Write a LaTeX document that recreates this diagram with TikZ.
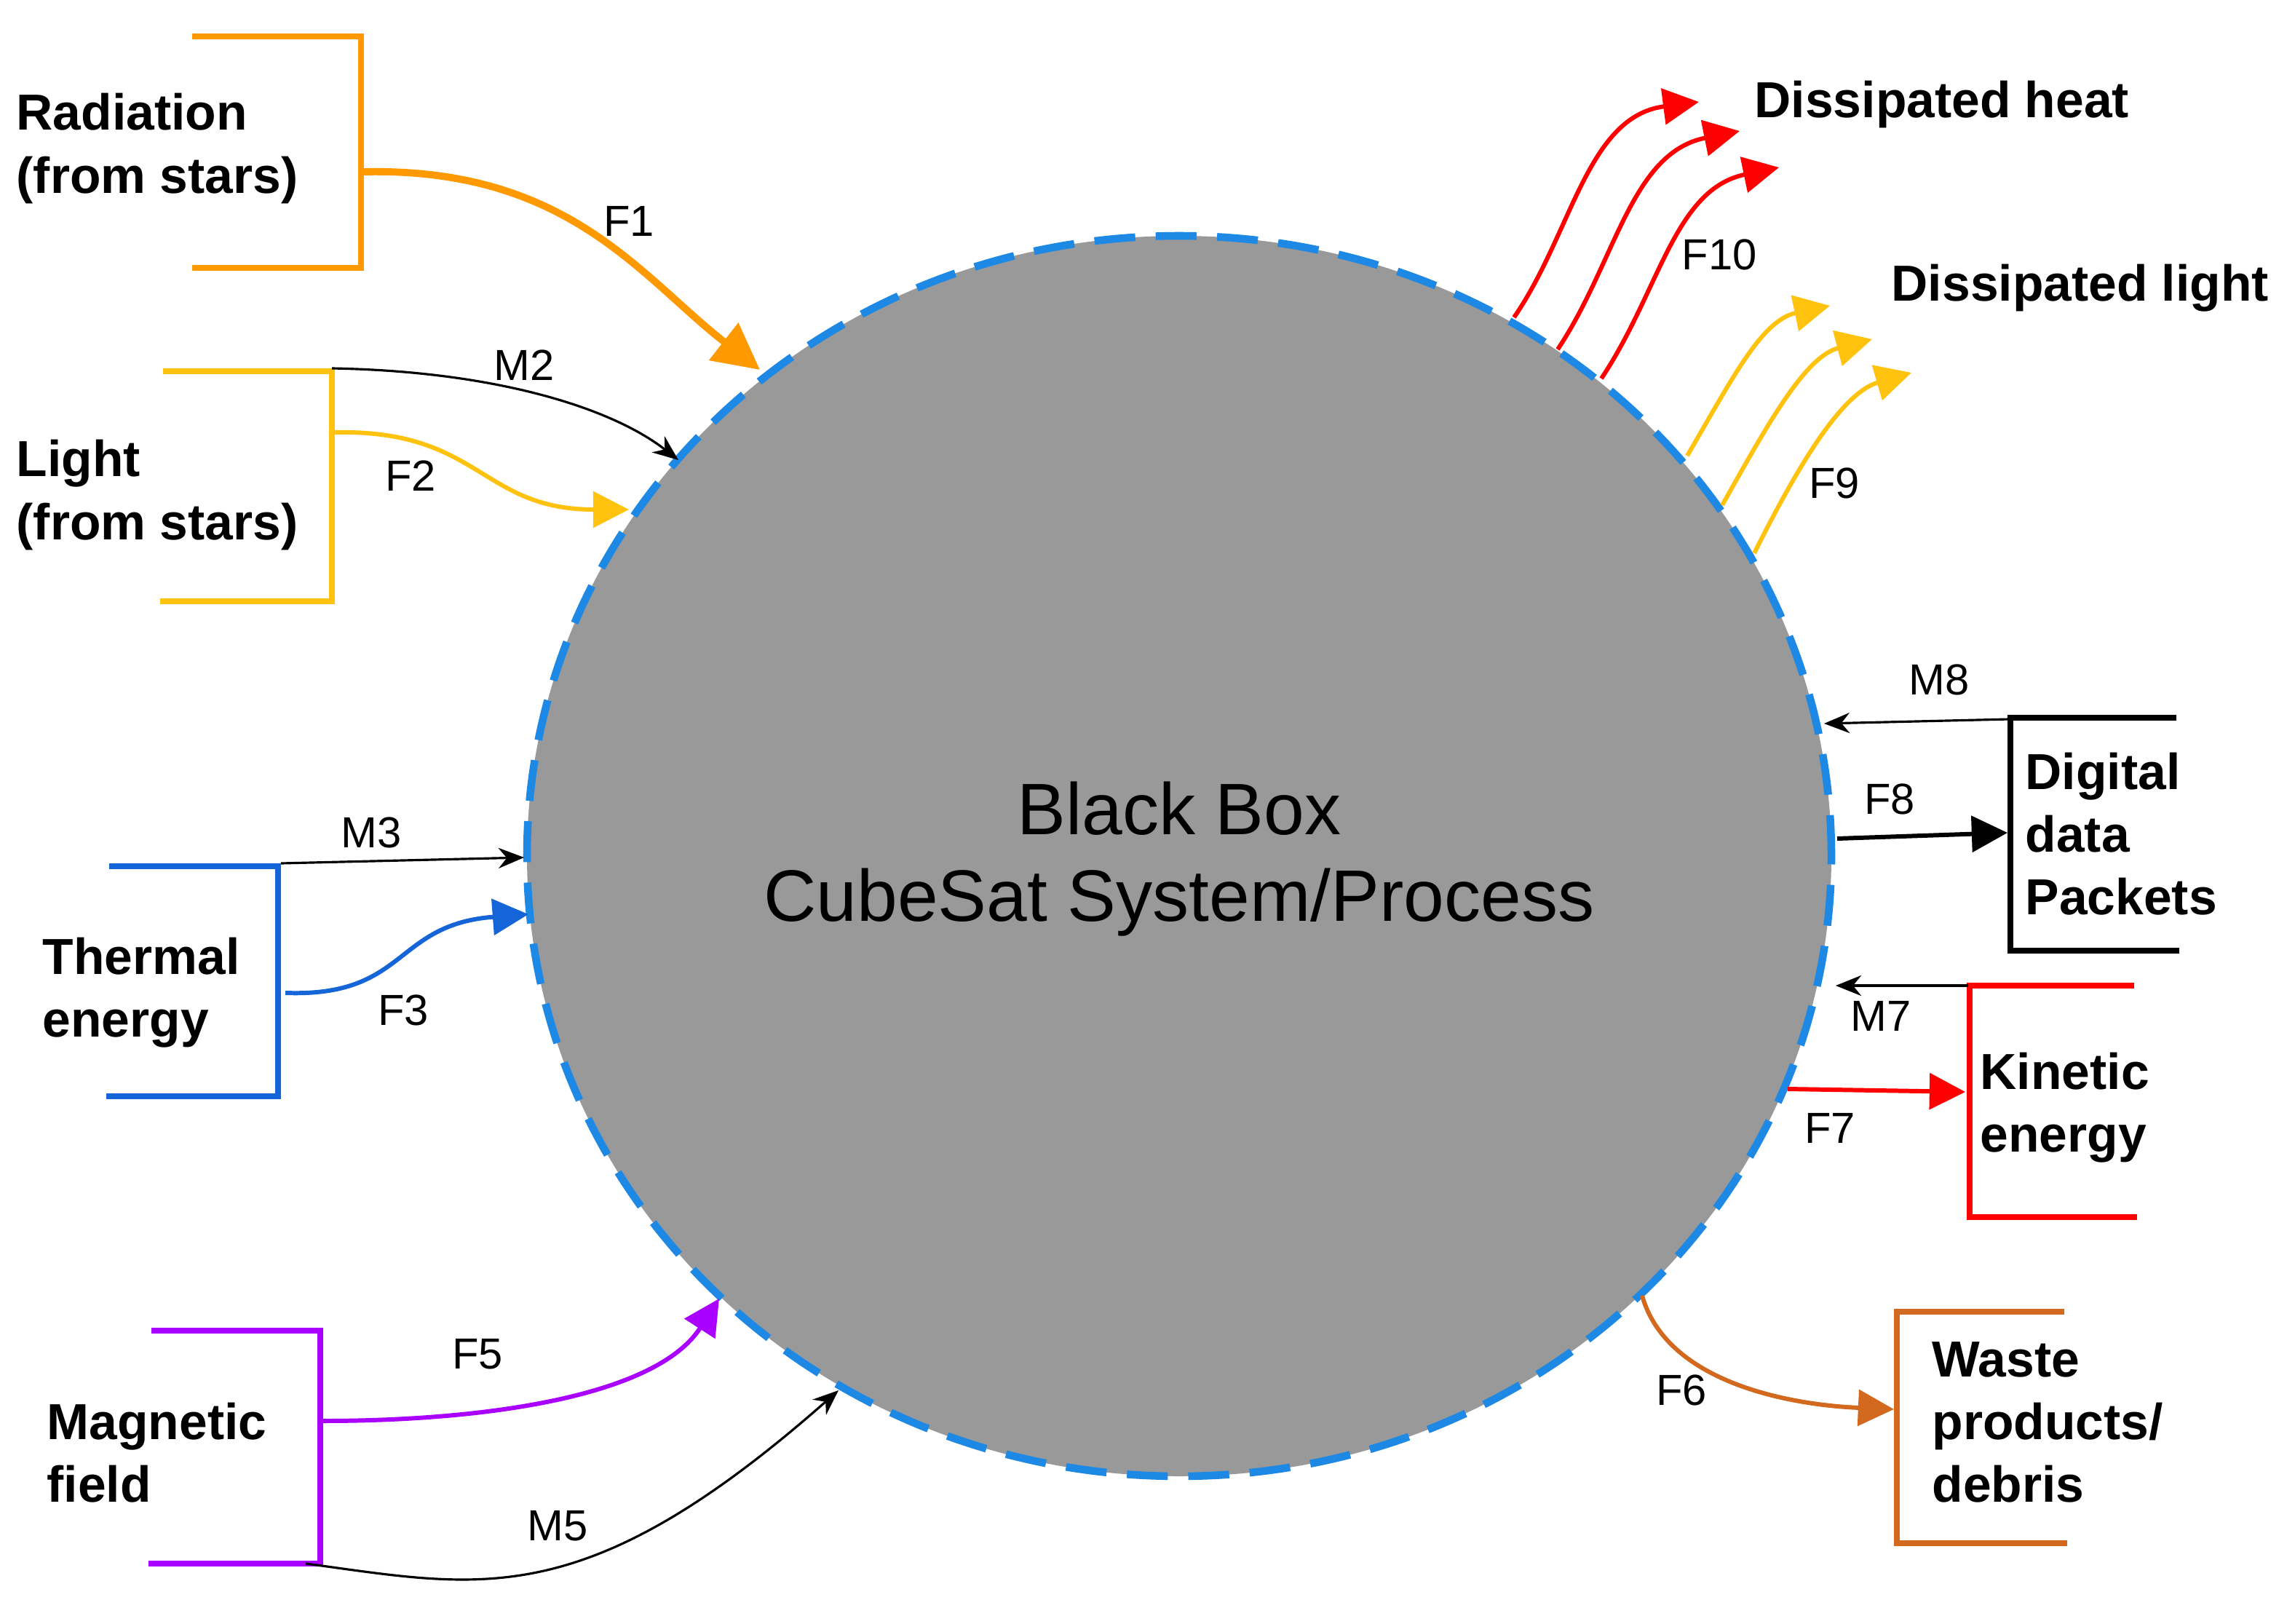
\documentclass[tikz,border=0pt]{standalone}
\usepackage{fontspec}
\setmainfont{Liberation Sans}
\usetikzlibrary{arrows.meta,shapes.geometric}
\definecolor{corange}{HTML}{FF9900}
\definecolor{cyellow}{HTML}{FFC20E}
\definecolor{cblue}{HTML}{1565D8}
\definecolor{cpurple}{HTML}{AA00FF}
\definecolor{cred}{HTML}{FF0000}
\definecolor{cbrown}{HTML}{D2691E}
\definecolor{cdash}{HTML}{1E88E5}
\definecolor{cgray}{HTML}{999999}
\tikzset{
  lbl/.style={font=\fontsize{19.8}{24.5}\selectfont\bfseries, anchor=west, align=left, inner sep=0pt},
  flab/.style={font=\fontsize{17}{20}\selectfont, inner sep=0pt},
  brk/.style={line width=2.3pt},
  thick arr/.style={line width=2.8pt, -{Triangle[length=18pt,width=18pt]}},
  mid arr/.style={line width=1.7pt, -{Triangle[length=14pt,width=14pt]}},
  thin arr/.style={line width=0.9pt, black, -{Stealth[length=10pt,width=8pt]}},
}
\begin{document}
\begin{tikzpicture}[x=0.02cm,y=-0.02cm]
\useasboundingbox (0,0) rectangle (1571,1115);
% main circle
\node[ellipse, draw=cdash, fill=cgray, line width=3pt, dash pattern=on 16pt off 8pt,
  minimum width=896*0.02cm, minimum height=852*0.02cm, inner sep=0pt] (bb) at (810,588) {};
\node[font=\fontsize{28.5}{34}\selectfont, align=center] (bbt) at (810,590) {Black Box\\CubeSat System/Process};

% Radiation
\draw[brk, corange] (132,25) -- (248,25) -- (248,184) -- (132,184);
\node[lbl] (rad) at (11,102) {Radiation\\(from stars)};
\coordinate (r0) at (250,118); \coordinate (r1) at (522,254);
\draw[thick arr, corange] (r0) .. controls (390,115) and (440,190) .. (r1);
\node[flab] (f1) at (432,152) {F1};

% Light
\draw[brk, cyellow] (112,255) -- (228,255) -- (228,413) -- (110,413);
\node[lbl] (light) at (11,340) {Light\\(from stars)};
\coordinate (m2a) at (228,253); \coordinate (m2b) at (466,316);
\draw[thin arr] (m2a) .. controls (340,255) and (420,280) .. (m2b);
\node[flab] (m2) at (360,251) {M2};
\coordinate (l0) at (230,297); \coordinate (l1) at (432,350);
\draw[mid arr, cyellow] (l0) .. controls (330,295) and (330,350) .. (l1);
\node[flab] (f2) at (282,327) {F2};

% Thermal
\draw[brk, cblue] (75,595) -- (191,595) -- (191,753) -- (73,753);
\node[lbl] (th) at (29,682) {Thermal\\energy};
\coordinate (m3a) at (193,593); \coordinate (m3b) at (360,589);
\draw[thin arr] (m3a) -- (m3b);
\node[flab] (m3) at (255,572) {M3};
\coordinate (t0) at (196,682); \coordinate (t1) at (363,628);
\draw[mid arr, cblue] (t0) .. controls (280,685) and (270,635) .. (t1);
\node[flab] (f3) at (277,694) {F3};

% Magnetic
\draw[brk, cpurple] (104,914) -- (220,914) -- (220,1074) -- (102,1074);
\node[lbl] (mag) at (32,998) {Magnetic\\field};
\coordinate (g0) at (222,976); \coordinate (g1) at (494,892);
\draw[mid arr, cpurple] (g0) .. controls (330,976) and (450,960) .. (g1);
\node[flab] (f5) at (328,930) {F5};
\coordinate (m5a) at (210,1074); \coordinate (m5b) at (576,955);
\draw[thin arr] (m5a) .. controls (330,1090) and (400,1110) .. (m5b);
\node[flab] (m5) at (383,1048) {M5};

% Digital data
\draw[brk, black] (1495,493) -- (1381,493) -- (1381,653) -- (1497,653);
\node[lbl] (dig) at (1391,573) {Digital\\data\\Packets};
\coordinate (m8a) at (1380,494); \coordinate (m8b) at (1253,497);
\draw[thin arr] (m8a) -- (m8b);
\node[flab] (m8) at (1332,467) {M8};
\coordinate (d0) at (1262,576); \coordinate (d1) at (1379,572);
\draw[mid arr, black] (d0) -- (d1);
\node[flab] (f8) at (1298,549) {F8};

% Kinetic
\draw[brk, cred] (1466,677) -- (1353,677) -- (1353,836) -- (1468,836);
\node[lbl] (kin) at (1360,761) {Kinetic\\energy};
\coordinate (m7a) at (1352,677); \coordinate (m7b) at (1261,677);
\draw[thin arr] (m7a) -- (m7b);
\node[flab] (m7) at (1292,698) {M7};
\coordinate (k0) at (1228,748); \coordinate (k1) at (1350,750);
\draw[mid arr, cred] (k0) -- (k1);
\node[flab] (f7) at (1257,775) {F7};

% Waste
\draw[brk, cbrown] (1418,901) -- (1303,901) -- (1303,1060) -- (1420,1060);
\node[lbl] (waste) at (1327,977) {Waste\\products/\\debris};
\coordinate (w0) at (1128,890); \coordinate (w1) at (1301,968);
\draw[mid arr, cbrown] (w0) .. controls (1145,950) and (1230,965) .. (w1);
\node[flab] (f6) at (1155,955) {F6};

% Dissipated heat
\node[lbl] (dh) at (1205,72) {Dissipated heat};
\coordinate (h1a) at (1040,218); \coordinate (h1b) at (1167,70);
\coordinate (h2a) at (1070,240); \coordinate (h2b) at (1195,90);
\coordinate (h3a) at (1100,260); \coordinate (h3b) at (1222,115);
\draw[mid arr, cred] (h1a) .. controls (1080,160) and (1090,80) .. (h1b);
\draw[mid arr, cred] (h2a) .. controls (1110,180) and (1120,105) .. (h2b);
\draw[mid arr, cred] (h3a) .. controls (1140,200) and (1150,130) .. (h3b);
\node[flab] (f10) at (1181,175) {F10};

% Dissipated light
\node[lbl] (dl) at (1299,198) {Dissipated light};
\coordinate (y1a) at (1159,313); \coordinate (y1b) at (1257,210);
\coordinate (y2a) at (1183,347); \coordinate (y2b) at (1286,233);
\coordinate (y3a) at (1205,380); \coordinate (y3b) at (1313,256);
\draw[mid arr, cyellow] (y1a) .. controls (1190,260) and (1210,220) .. (y1b);
\draw[mid arr, cyellow] (y2a) .. controls (1215,290) and (1240,245) .. (y2b);
\draw[mid arr, cyellow] (y3a) .. controls (1235,320) and (1265,270) .. (y3b);
\node[flab] (f9) at (1260,332) {F9};
\end{tikzpicture}
\end{document}
